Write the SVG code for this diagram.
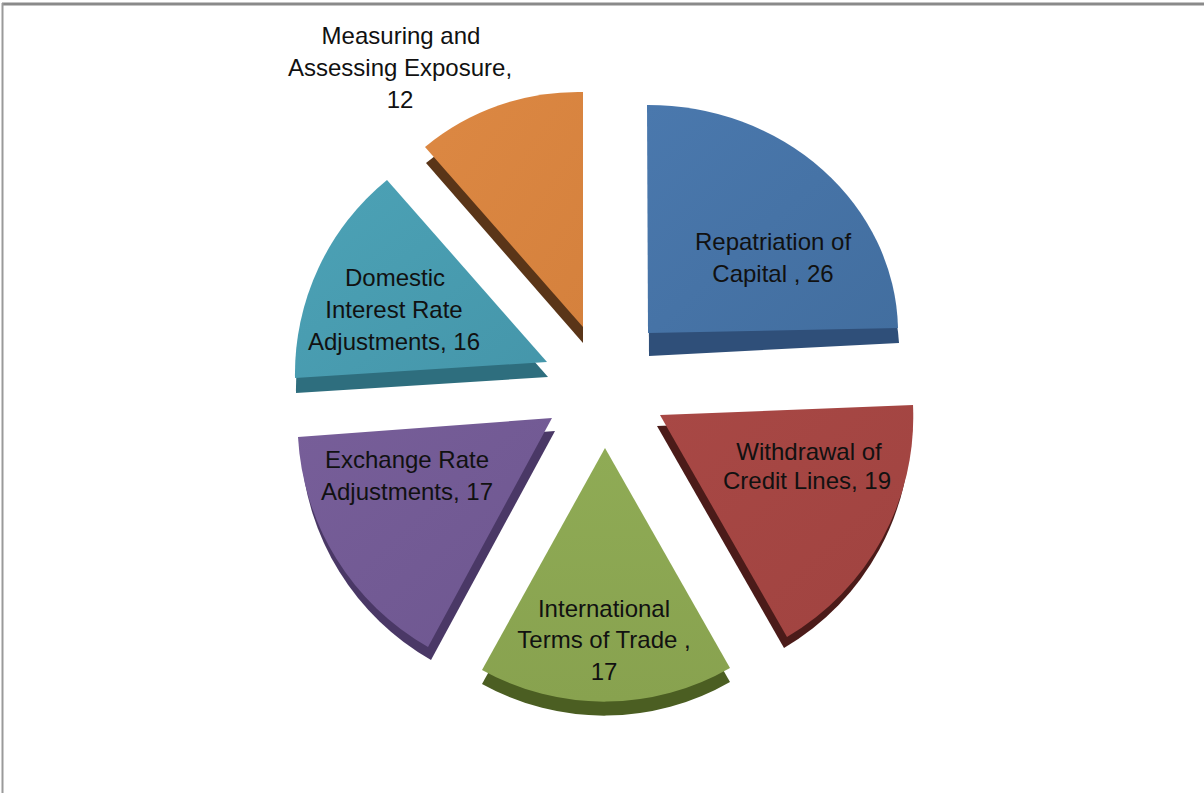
<svg xmlns="http://www.w3.org/2000/svg" width="1204" height="793" viewBox="0 0 1204 793">
<style>
.t{font-family:"Liberation Sans",Arial,sans-serif;font-size:24px;fill:#111;text-anchor:middle}
</style>
<defs>
<linearGradient id="gB" x1="0" y1="0" x2="1" y2="1"><stop offset="0" stop-color="#4a78ad"/><stop offset="1" stop-color="#426e9f"/></linearGradient>
<linearGradient id="gO" x1="0" y1="0" x2="1" y2="1"><stop offset="0" stop-color="#dc8843"/><stop offset="1" stop-color="#d5813d"/></linearGradient>
<linearGradient id="gT" x1="0" y1="0" x2="1" y2="1"><stop offset="0" stop-color="#4ca2b6"/><stop offset="1" stop-color="#4596aa"/></linearGradient>
<linearGradient id="gR" x1="0" y1="0" x2="1" y2="1"><stop offset="0" stop-color="#a84845"/><stop offset="1" stop-color="#a04340"/></linearGradient>
<linearGradient id="gG" x1="0" y1="0" x2="0" y2="1"><stop offset="0" stop-color="#8fab55"/><stop offset="1" stop-color="#88a24f"/></linearGradient>
<linearGradient id="gP" x1="0" y1="0" x2="1" y2="1"><stop offset="0" stop-color="#775e99"/><stop offset="1" stop-color="#6e5790"/></linearGradient>
</defs>
<rect width="1204" height="793" fill="#fff"/>
<line x1="2" y1="4" x2="1204" y2="4" stroke="#8a8a8a" stroke-width="3"/>
<line x1="2.5" y1="3" x2="2.5" y2="793" stroke="#9a9a9a" stroke-width="2"/>

<g id="repatriation">
<path d="M649 356 L648 128 A250 228 0 0 1 899 343 Z" fill="#2f4f79"/>
<path d="M648 333 L647 105 A250 228 0 0 1 898 328 Z" fill="url(#gB)"/>
<text class="t" x="773" y="250">Repatriation of</text>
<text class="t" x="773" y="282">Capital , 26</text>
</g>

<g id="measuring">
<path d="M583 343 L583 108 A240 240 0 0 0 426 163 Z" fill="#5a3518"/>
<path d="M583 327 L583 92 A240 240 0 0 0 425 147 Z" fill="url(#gO)"/>
<text class="t" x="401" y="44">Measuring and</text>
<text class="t" x="400" y="76">Assessing Exposure,</text>
<text class="t" x="400" y="108">12</text>
</g>

<g id="domestic">
<path d="M548 377 L388 195 A250 250 0 0 0 296 393 Z" fill="#2e6e7e"/>
<path d="M547 362 L387 180 A250 250 0 0 0 295 378 Z" fill="url(#gT)"/>
<text class="t" x="395" y="286">Domestic</text>
<text class="t" x="394" y="318">Interest Rate</text>
<text class="t" x="394" y="350">Adjustments, 16</text>
</g>

<g id="withdrawal">
<path d="M657 426 L910 416 A255 255 0 0 1 784 648 Z" fill="#4b1b19"/>
<path d="M660 415 L913 405 A255 255 0 0 1 787 637 Z" fill="url(#gR)"/>
<text class="t" x="809" y="460">Withdrawal of</text>
<text class="t" x="807" y="489">Credit Lines, 19</text>
</g>

<g id="international">
<path d="M605 462 L730 682 A252 252 0 0 1 482 684 Z" fill="#4b5e22"/>
<path d="M605 448 L730 668 A252 252 0 0 1 482 670 Z" fill="url(#gG)"/>
<text class="t" x="604" y="617">International</text>
<text class="t" x="604" y="648">Terms of Trade ,</text>
<text class="t" x="604" y="680">17</text>
</g>

<g id="exchange">
<path d="M555 431 L431 660 A258 258 0 0 1 301 450 Z" fill="#4a3866"/>
<path d="M552 418 L428 647 A258 258 0 0 1 298 437 Z" fill="url(#gP)"/>
<text class="t" x="407" y="468">Exchange Rate</text>
<text class="t" x="407" y="500">Adjustments, 17</text>
</g>
<g id="connectors"/>
</svg>
